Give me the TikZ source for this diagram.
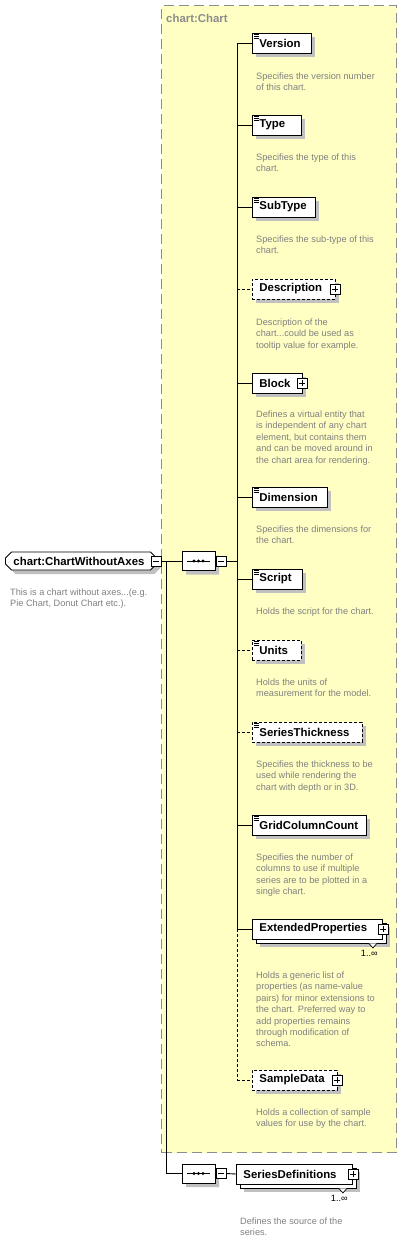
\documentclass[tikz,border=0pt]{standalone}
\usepackage{fontspec}
\setmainfont{Liberation Sans}
\usetikzlibrary{shapes.misc,shadows}
\definecolor{grpfill}{HTML}{FFFFC4}
\definecolor{grpline}{HTML}{8C8C8C}
\definecolor{desccol}{HTML}{808080}
\definecolor{shade}{HTML}{C0C0C0}
\newcommand\elicon[1]{\foreach \d in {2,4,6}{\draw[line width=0.6pt] ([xshift=2pt,yshift=-\d pt]#1.north west) -- ++(5,0);}}
\tikzset{
  elshadow/.style={drop shadow={shadow xshift=4pt, shadow yshift=-4pt, fill=shade, opacity=1}},
  elbase/.style={draw=black, fill=white, line width=0.9pt, minimum height=20pt, inner xsep=7pt, inner ysep=0pt,
    anchor=west, align=left, font=\fontsize{11.4}{13}\selectfont\bfseries},
  elbox/.style={elbase, elshadow},
  optbox/.style={elbox, dash pattern=on 3pt off 2pt},
  descr/.style={anchor=base west, inner sep=0pt, align=left, text=desccol, font=\fontsize{9.2}{11.4}\selectfont},
  mult/.style={anchor=east, inner sep=0pt, font=\fontsize{9.2}{11}\selectfont},
  pmbase/.style={draw=black, fill=white, line width=0.7pt, minimum size=10pt, inner sep=0pt},
  plusbox/.style={pmbase, path picture={\draw[line width=0.7pt]
     ([xshift=2pt]path picture bounding box.west) -- ([xshift=-2pt]path picture bounding box.east)
     ([yshift=-2pt]path picture bounding box.north) -- ([yshift=2pt]path picture bounding box.south);}},
  minusbox/.style={pmbase, path picture={\draw[line width=0.7pt]
     ([xshift=2pt]path picture bounding box.west) -- ([xshift=-2pt]path picture bounding box.east);}},
  seqbox/.style={chamfered rectangle, chamfered rectangle xsep=6pt, chamfered rectangle ysep=5pt,
     draw=black, fill=white, line width=0.9pt, minimum width=33pt, minimum height=19pt, inner sep=0pt, elshadow},
  rootbox/.style={chamfered rectangle, chamfered rectangle xsep=3pt, chamfered rectangle ysep=3pt,
     draw=black, fill=white, line width=0.9pt, minimum height=18pt, inner xsep=5pt, inner ysep=0pt,
     anchor=west, align=left, text width=135pt, font=\fontsize{11.4}{13}\selectfont\bfseries, elshadow},
  grpbox/.style={draw=grpline, fill=grpfill, line width=1pt, dash pattern=on 10pt off 5pt, inner sep=0pt},
  grplabel/.style={anchor=west, inner sep=0pt, text=grpline, font=\fontsize{11.4}{13}\selectfont\bfseries},
  conn/.style={line width=0.9pt},
  optconn/.style={conn, dash pattern=on 3pt off 2pt},
  notch/.style={draw=black, fill=white, line width=0.7pt},
}
\begin{document}
\begin{tikzpicture}[x=1pt,y=-1pt]
\useasboundingbox (0,0) rectangle (402,1253);
% group
\node[grpbox, anchor=north west, minimum width=235pt, minimum height=1147pt] (chartgrp) at (161,5) {};
\node[grplabel] (chartlbl) at (166,18.5) {chart:Chart};
% root
\node[rootbox] (root) at (5,561) {chart:ChartWithoutAxes};
\node[minusbox] (rootminus) at ([xshift=-0.5pt]root.east) {};
\node[descr] (rootdesc) at (10,606.9) {This is a chart without axes...(e.g.\\Pie Chart, Donut Chart etc.).};
% sequences
\node[seqbox] (seq1) at (198.5,561) {};
\node[minusbox] (seq1minus) at (221,561) {};
\node[seqbox] (seq2) at (198.5,1173.5) {};
\node[minusbox] (seq2minus) at (221,1173.5) {};
\foreach \s in {seq1,seq2}{
  \draw[conn] ([xshift=5pt]\s.west) -- ([xshift=-5pt]\s.east);
  \foreach \o in {-4.5,0,4.5}{\fill ([xshift=\o pt]\s.center) circle (1.6pt);}
}
\coordinate (bus) at (237,0);
\coordinate (trunk) at (166,0);
% children
\node[elbox, text width=45pt] (version) at (252,43) {Version};
\elicon{version}
\node[descr] (versiondesc) at (256,90.9) {Specifies the version number\\of this chart.};

\node[elbox, text width=35pt] (type) at (252,125) {Type};
\elicon{type}
\node[descr] (typedesc) at (256,171.9) {Specifies the type of this\\chart.};

\node[elbox, text width=49pt] (subtype) at (252,207) {SubType};
\elicon{subtype}
\node[descr] (subtypedesc) at (256,253.9) {Specifies the sub-type of this\\chart.};

\node[optbox, text width=69pt] (description) at (252,289) {Description};
\node[plusbox] (descriptionplus) at ([xshift=-1pt]description.east) {};
\node[descr] (descriptiondesc) at (256,348.3) {Description of the\\chart...could be used as\\tooltip value for example.};

\node[elbox, text width=36pt] (block) at (252,383) {Block};
\node[plusbox] (blockplus) at ([xshift=-0.5pt]block.east) {};
\node[descr] (blockdesc) at (256,463.1) {Defines a virtual entity that\\is independent of any chart\\element, but contains them\\and can be moved around in\\the chart area for rendering.};

\node[elbox, text width=61pt] (dimension) at (252,497) {Dimension};
\elicon{dimension}
\node[descr] (dimensiondesc) at (256,543.9) {Specifies the dimensions for\\the chart.};

\node[elbox, text width=36pt] (script) at (252,579) {Script};
\elicon{script}
\node[descr] (scriptdesc) at (256,614.5) {Holds the script for the chart.};

\node[optbox, text width=35pt] (units) at (252,650) {Units};
\elicon{units}
\node[descr] (unitsdesc) at (256,696.9) {Holds the units of\\measurement for the model.};

\node[optbox, text width=96pt] (seriesthickness) at (252,732) {SeriesThickness};
\elicon{seriesthickness}
\node[descr] (seriesthicknessdesc) at (256,790.3) {Specifies the thickness to be\\used while rendering the\\chart with depth or in 3D.};

\node[elbox, text width=100pt] (gridcolumncount) at (252,825) {GridColumnCount};
\elicon{gridcolumncount}
\node[descr] (gridcolumncountdesc) at (256,894.7) {Specifies the number of\\columns to use if multiple\\series are to be plotted in a\\single chart.};

\node[elbox, text width=116pt] (extback) at (256,933) {};
\draw[notch] ([xshift=-18pt]extback.south east) -- ([xshift=-14pt,yshift=-4.5pt]extback.south east) -- ([xshift=-10pt]extback.south east);
\node[elbase, text width=116pt] (extendedproperties) at (252,929) {ExtendedProperties};
\node[plusbox] (extendedpropertiesplus) at (extendedproperties.east) {};
\node[mult] (extmult) at ([xshift=-9pt,yshift=-10pt]extback.south east) {1..∞};
\node[descr] (extendedpropertiesdesc) at (256,1046.9) {Holds a generic list of\\properties (as name-value\\pairs) for minor extensions to\\the chart. Preferred way to\\add properties remains\\through modification of\\schema.};

\node[optbox, text width=71pt] (sampledata) at (252,1080) {SampleData};
\node[plusbox] (sampledataplus) at ([xshift=-1pt]sampledata.east) {};
\node[descr] (sampledatadesc) at (256,1126.9) {Holds a collection of sample\\values for use by the chart.};

\node[elbox, text width=102pt] (sdback) at (240,1178) {};
\draw[notch] ([xshift=-18pt]sdback.south east) -- ([xshift=-14pt,yshift=-4.5pt]sdback.south east) -- ([xshift=-10pt]sdback.south east);
\node[elbase, text width=102pt] (seriesdefinitions) at (236,1174) {SeriesDefinitions};
\node[plusbox] (seriesdefinitionsplus) at (seriesdefinitions.east) {};
\node[mult] (sdmult) at ([xshift=-9pt,yshift=-10pt]sdback.south east) {1..∞};
\node[descr] (seriesdefinitionsdesc) at (240,1235.9) {Defines the source of the\\series.};

% connectors
\draw[conn] (rootminus.east) -- (seq1.west);
\draw[conn] (trunk |- seq1.west) -- (trunk |- seq2.west) -- (seq2.west);
\draw[conn] (seq2minus.east) -- (seriesdefinitions.west);
\draw[conn] (seq1minus.east) -- (bus |- seq1minus.east);
\draw[conn] (bus |- version.west) -- (bus |- extendedproperties.west);
\draw[optconn] (bus |- extendedproperties.west) -- (bus |- sampledata.west);
\foreach \c in {version,type,subtype,block,dimension,script,gridcolumncount,extendedproperties}{
  \draw[conn] (bus |- \c.west) -- (\c.west);
}
\foreach \c in {description,units,seriesthickness,sampledata}{
  \draw[optconn] (bus |- \c.west) -- (\c.west);
}
\end{tikzpicture}
\end{document}
